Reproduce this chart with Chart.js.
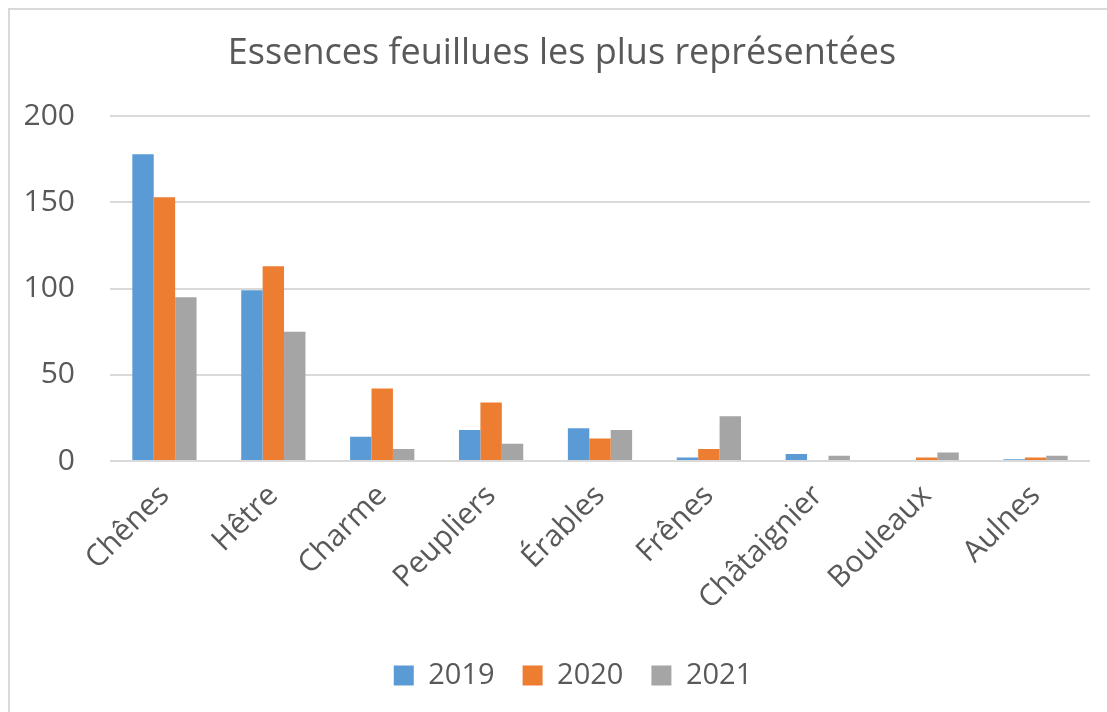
<!DOCTYPE html>
<html>
<head>
<meta charset="utf-8">
<script src="https://cdn.jsdelivr.net/npm/chart.js@4"></script>
<style>
  html,body{margin:0;padding:0;background:#fff;overflow:hidden;}
  #wrap{position:relative;width:1107px;height:720px;}
  #frame{position:absolute;left:8px;top:8px;width:1200px;height:800px;border:2px solid #d9d9d9;box-sizing:border-box;pointer-events:none;}
</style>
</head>
<body>
<div id="wrap">
  <canvas id="chart" width="1107" height="720"></canvas>
  <div id="frame"></div>
</div>
<script>
const categories = ['Chênes','Hêtre','Charme','Peupliers','Érables','Frênes','Châtaignier','Bouleaux','Aulnes'];
const years = ['2019','2020','2021'];
const values2019 = [178, 99, 14, 18, 19, 2, 4, 0, 1];
const values2020 = [153, 113, 42, 34, 13, 7, 0, 2, 2];
const values2021 = [95, 75, 7, 10, 18, 26, 3, 5, 3];
const yTicks = [0, 50, 100, 150, 200];
const colors = ['#5b9bd5','#ed7d31','#a5a5a5'];

const FONT = "'Open Sans', sans-serif";
const TXT = '#595959';

// title and legend sit a bit right of the chart centre in the original
const shiftBoxes = {
  id: 'shiftBoxes',
  afterLayout(chart){
    if (chart.legend){ chart.legend.left += 28; chart.legend.right += 28; }
    if (chart.titleBlock){ chart.titleBlock.left += 17; chart.titleBlock.right += 17; }
  }
};

const ctx = document.getElementById('chart').getContext('2d');
new Chart(ctx, {
  type: 'bar',
  data: {
    labels: categories,
    datasets: [values2019, values2020, values2021].map((d,i)=>({
      label: years[i], data: d, backgroundColor: colors[i],
      categoryPercentage: 0.59, barPercentage: 1.0, borderWidth: 0
    }))
  },
  plugins: [shiftBoxes],
  options: {
    responsive: false,
    animation: false,
    layout: { padding: { left: 0, right: 17, top: 0, bottom: 20 } },
    plugins: {
      title: {
        display: true, text: 'Essences feuillues les plus représentées',
        color: TXT, font: { family: FONT, size: 36, weight: 'normal' },
        padding: { top: 32, bottom: 41 }
      },
      legend: {
        position: 'bottom',
        labels: {
          color: TXT, font: { family: FONT, size: 29 },
          boxWidth: 20, boxHeight: 20, padding: 28
        }
      },
      tooltip: { enabled: false }
    },
    scales: {
      x: {
        grid: { display: false },
        border: { display: false },
        ticks: { color: TXT, font: { family: FONT, size: 30 }, minRotation: 45, maxRotation: 45, padding: 9 },
        afterFit: s => { s.height = 172; }
      },
      y: {
        min: 0, max: 200,
        afterBuildTicks: s => { s.ticks = yTicks.map(v=>({value:v})); },
        grid: { color: '#d9d9d9', lineWidth: 2, drawTicks: false },
        border: { display: false },
        ticks: { color: TXT, font: { family: FONT, size: 30 }, padding: 35 },
        afterFit: s => { s.width = 110; }
      }
    }
  }
});
</script>
</body>
</html>
